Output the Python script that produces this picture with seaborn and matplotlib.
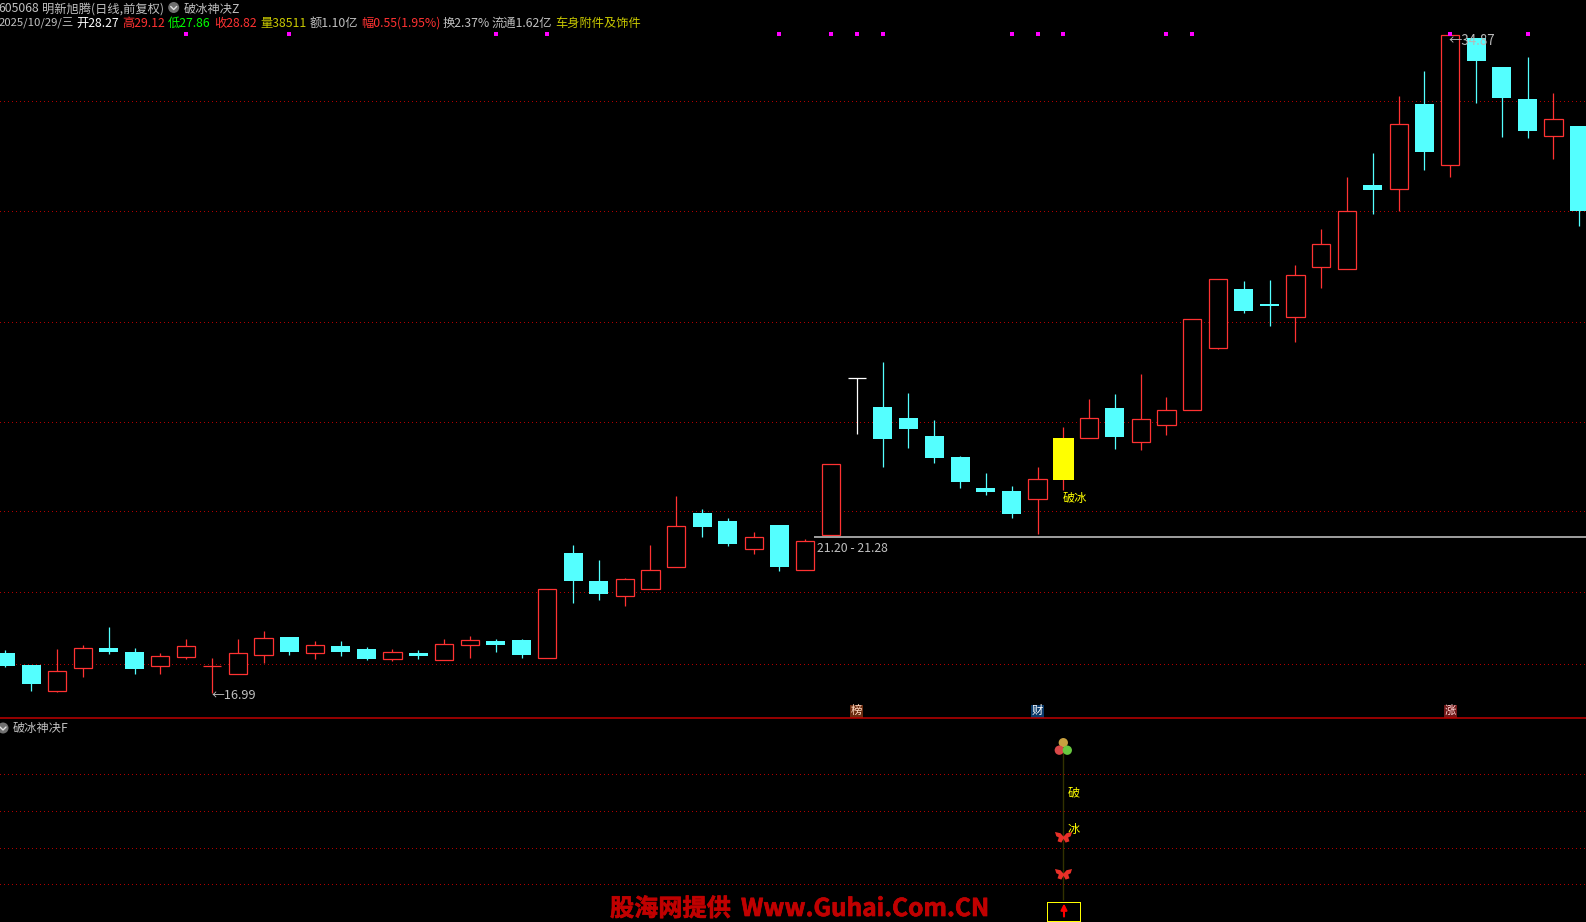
import numpy as np
import pandas as pd
import seaborn as sns
import matplotlib
matplotlib.use("Agg")
import matplotlib.pyplot as plt
import matplotlib.patheffects as pe
from matplotlib.patches import Rectangle, Circle
from matplotlib.path import Path

W, H = 1586, 922

# daily prices, one entry per candle
opens = [18.07, 17.74, 17.04, 17.67, 18.20, 18.10, 17.72, 17.97, 17.71, 17.51, 18.02,
         18.50, 18.08, 18.26, 18.18, 17.91, 18.07, 17.89, 18.29, 18.40, 18.42,
         17.94, 20.79, 20.03, 19.63, 19.82, 20.42, 21.88, 21.66, 20.90, 21.55, 20.33,
         21.27, 25.54, 24.76, 24.46, 23.97, 23.40, 22.55, 22.47, 22.26, 23.91,
         23.92, 24.73, 23.81, 24.28, 24.68, 26.37, 27.96, 27.56, 27.21, 28.57, 28.52,
         30.79, 30.69, 32.99, 31.34, 34.79, 34.00, 33.13, 32.13, 32.40]
highs = [18.15, 17.74, 18.18, 18.29, 18.78, 18.20, 18.07, 18.45, 17.93, 18.45, 18.67,
         18.50, 18.40, 18.40, 18.23, 18.18, 18.15, 18.45, 18.53, 18.45, 18.45,
         19.80, 21.01, 20.60, 20.11, 21.01, 22.34, 21.98, 21.74, 21.36, 21.55, 21.17,
         23.20, 25.54, 25.98, 25.14, 24.40, 23.42, 22.96, 22.61, 23.13, 24.20,
         24.97, 25.11, 25.65, 25.03, 27.14, 28.23, 28.18, 28.21, 28.62, 29.60, 31.01,
         31.66, 33.21, 33.89, 34.87, 34.79, 34.00, 34.27, 33.29, 32.40]
lows = [17.70, 17.04, 17.02, 17.42, 18.04, 17.50, 17.50, 17.91, 16.99, 17.51, 17.80,
        18.01, 17.91, 17.99, 17.88, 17.85, 17.91, 17.89, 17.93, 18.10, 17.93,
        17.94, 19.43, 19.51, 19.35, 19.82, 20.42, 21.22, 20.98, 20.76, 20.30, 20.33,
        21.27, 24.03, 23.13, 23.64, 23.23, 22.55, 22.36, 21.74, 21.30, 22.50,
        23.92, 23.62, 23.59, 24.00, 24.68, 26.33, 27.31, 26.96, 26.52, 27.99, 28.52,
        30.00, 30.09, 31.20, 31.01, 33.02, 32.10, 32.07, 31.50, 29.68]
closes = [17.72, 17.23, 17.58, 18.20, 18.10, 17.63, 17.98, 18.25, 17.71, 18.06, 18.47,
          18.10, 18.28, 18.10, 17.91, 18.09, 17.99, 18.31, 18.41, 18.29, 18.01,
          19.80, 20.03, 19.67, 20.07, 20.32, 21.51, 21.49, 21.03, 21.21, 20.41, 21.11,
          23.20, 25.54, 23.89, 24.16, 23.37, 22.72, 22.45, 21.85, 22.79, 22.77,
          24.45, 23.94, 24.42, 24.67, 27.14, 28.23, 27.37, 27.50, 28.34, 29.18, 30.08,
          30.66, 32.44, 31.69, 34.87, 34.16, 33.16, 32.26, 32.58, 30.08]

price_grid = [33.07, 30.08, 27.06, 24.34, 21.92, 19.72, 17.76]
signal_days = [7, 11, 19, 21, 30, 32, 33, 34, 39, 40, 41, 45, 46, 56, 59]
signal_price = 34.91
support_price = 21.23
support_start = 31.34
yellow_day = 41
white_day = 33

sub_grid = [80, 60, 40, 20]
breakout_day = 41
breakout_top = 99.7
breakout_bottom = 11.4
butterfly_values = [46, 25.6]
ball_offsets = [0.0, -0.155, 0.155]
ball_values = [97.2, 93.1, 93.1]
ball_colors = ["#c8a040", "#d84848", "#68c840"]

badges = [(33, "榜", "#6a2c10", "#ffd8c0"), (40, "财", "#0a3a6a", "#ffffff"), (56, "涨", "#701818", "#ffd8d8")]

header = [
    (-2, 9, "605068", "#c0c0c0", 8.8), (42, 9, "明新旭腾(日线,前复权)", "#c0c0c0", 8.8), (184, 9, "破冰神决Z", "#c0c0c0", 8.8),
    (-1, 23, "2025/10/29/三", "#c0c0c0", 8.2), (76, 23, "开28.27", "#ffffff", 8.8), (122, 23, "高29.12", "#ff3232", 8.8),
    (168, 23, "低27.86", "#00ff00", 8.8), (214, 23, "收28.82", "#ff3232", 8.8), (260, 23, "量38511", "#c8c800", 8.8),
    (310, 23, "额1.10亿", "#c0c0c0", 8.8), (361, 23, "幅0.55(1.95%)", "#ff3232", 8.8), (443, 23, "换2.37%", "#c0c0c0", 8.8),
    (492, 23, "流通1.62亿", "#c0c0c0", 8.8), (555, 23, "车身附件及饰件", "#c8c800", 8.8),
]

RED = "#ff3232"
CYAN = "#54ffff"
YELLOW = "#ffff00"
GRID = "#b00000"
THIN = 0.72  # one pixel at dpi 100
WICK = 0.9

sns.set_theme(style="dark", rc={"figure.facecolor": "black", "axes.facecolor": "black", "savefig.facecolor": "black"})
plt.rcParams["font.family"] = ["Noto Sans CJK SC", "DejaVu Sans"]

df = pd.DataFrame({"open": opens, "high": highs, "low": lows, "close": closes})
df["day"] = np.arange(len(df))
df["up"] = df["close"] >= df["open"]

fig = plt.figure(figsize=(W / 100, H / 100), dpi=100)
split = 718.0
ax = fig.add_axes([0, 1 - split / H, 1, split / H])
sub = fig.add_axes([0, 0, 1, 1 - (split + 1) / H])
over = fig.add_axes([0, 0, 1, 1])
for a in (ax, sub, over):
    a.set_axis_off()
over.set_xlim(0, W)
over.set_ylim(H, 0)
over.patch.set_alpha(0)

step = 25.8
xlim = (-5.5 / step, (W - 5.5) / step)
ax.set_xlim(xlim)
sub.set_xlim(xlim)
ax.set_ylim(35.8215 - 0.027186 * split, 35.8215)
sub.set_ylim(-0.5, 110.1)

dots = (0, (1, 3))
for p in price_grid:
    ax.axhline(p, color=GRID, lw=THIN, ls=dots, antialiased=False, zorder=1)
for v in sub_grid:
    sub.axhline(v, color=GRID, lw=THIN, ls=dots, antialiased=False, zorder=1)

# candles
for row in df.itertuples():
    d = row.day
    lo, hi = min(row.open, row.close), max(row.open, row.close)
    if d == white_day:
        ax.vlines(d, row.low, row.high, color="white", lw=WICK, zorder=2)
        ax.hlines(row.close, d - 0.35, d + 0.35, color="white", lw=WICK, zorder=3)
        continue
    wick = RED if (row.up or d == yellow_day) else CYAN
    ax.vlines(d, row.low, row.high, color=wick, lw=WICK, zorder=2)
    if d == yellow_day:
        ax.bar(d, hi - lo, bottom=lo, width=0.81, color=YELLOW, lw=0, antialiased=False, zorder=3)
    elif row.open == row.close:
        ax.hlines(row.close, d - 0.35, d + 0.35, color=RED, lw=WICK, zorder=3)
    elif row.up:
        ax.bar(d, hi - lo, bottom=lo, width=0.70, facecolor="black", edgecolor=RED, lw=WICK, zorder=3)
    else:
        ax.bar(d, hi - lo, bottom=lo, width=0.735, color=CYAN, lw=0, antialiased=False, zorder=3)

# signal row along the top
sns.scatterplot(x=signal_days, y=[signal_price] * len(signal_days), ax=ax, color="#ff00ff", marker="s", s=6,
                linewidth=0, zorder=5, legend=False)
ax.hlines(support_price, support_start, xlim[1], color="#a0a0a0", lw=1.4, zorder=4)

# lower panel
sns.lineplot(x=[breakout_day, breakout_day], y=[breakout_bottom, breakout_top], ax=sub, color=YELLOW, lw=0.9,
             linestyle=(0, (1, 1.2)), zorder=2, legend=False)
left_wing = [(0, 0.1), (-0.35, 0.5), (-1, 0.65), (-0.85, 0.15), (-0.55, 0.0), (-0.7, -0.45), (-0.25, -0.6), (0, -0.15)]
right_wing = [(-x, y) for x, y in reversed(left_wing)]
butterfly = Path(left_wing + right_wing[1:] + [left_wing[0]], closed=True)
sns.scatterplot(x=[breakout_day] * len(butterfly_values), y=butterfly_values, ax=sub, color="#e83028", marker=butterfly,
                s=150, linewidth=0, zorder=4, legend=False)
sns.scatterplot(x=[breakout_day + o for o in ball_offsets], y=ball_values, ax=sub, hue=ball_colors, palette=ball_colors,
                s=45, linewidth=0, zorder=4, legend=False)

# divider and small decorations in pixel space
over.axhline(718.3, color="#c00000", lw=1.1)


def label(x, y, s, color="#c0c0c0", size=8.8, **kw):
    over.text(x, y, s, color=color, fontsize=size, va="center", ha=kw.pop("ha", "left"), **kw)


for x, y, s, c, size in header:
    label(x, y, s, c, size)


def chevron(x, y):
    over.add_patch(Circle((x, y), 5.5, color="#707070", lw=0))
    over.plot([x - 3, x, x + 3], [y - 1, y + 2, y - 1], color="#e0e0e0", lw=1)


chevron(173.7, 7.5)
chevron(3, 728)
label(13, 728, "破冰神决F")

label(212, 695.5, "←16.99", size=9.2)
label(1449, 41, "←34.87", color="#b8b8b8", size=9.6)
label(817, 548, "21.20 - 21.28")
label(1063, 498, "破冰", color=YELLOW)
label(1068, 793, "破", color=YELLOW)
label(1068, 829, "冰", color=YELLOW)

for day, s, bg, fg in badges:
    cx = 5.5 + step * day
    over.add_patch(Rectangle((cx - 6.5, 704.5), 13, 13, color=bg, lw=0))
    label(cx, 710.7, s, color=fg, size=8.2, ha="center")

over.add_patch(Rectangle((1047.3, 902.3), 32.4, 18.4, fill=False, edgecolor=YELLOW, lw=THIN, antialiased=False))
over.annotate("", xy=(1064, 903.5), xytext=(1064, 916.5),
              arrowprops=dict(arrowstyle="-|>", color="#ff0000", lw=1.5, mutation_scale=9, shrinkA=0, shrinkB=0))

heavy = [pe.withStroke(linewidth=0.5, foreground="#c00000")]
over.text(610, 909, "股海网提供", color="#c00000", fontsize=17.4, fontweight="bold", va="center", path_effects=heavy)
over.text(741, 909, "Www.Guhai.Com.CN", color="#c00000", fontsize=17.6, fontweight="bold", va="center", path_effects=heavy)

fig.savefig("out.png", dpi=100, facecolor="black")
